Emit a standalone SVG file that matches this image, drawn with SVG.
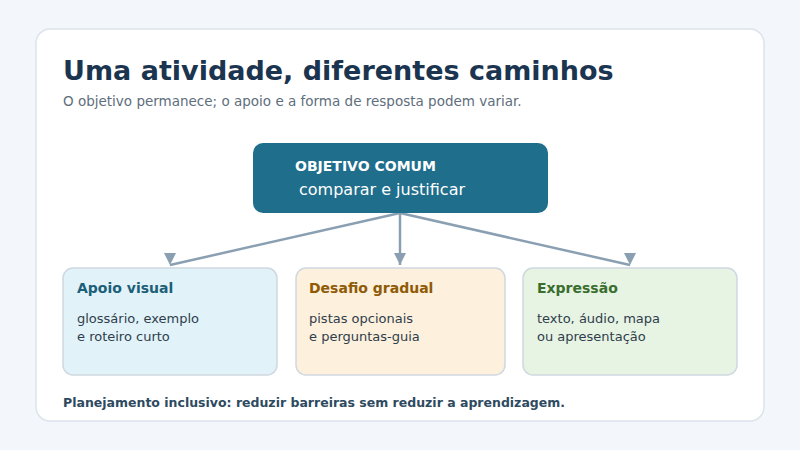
<svg xmlns="http://www.w3.org/2000/svg" width="800" height="450" viewBox="0 0 800 450">
<style>
text{font-family:"DejaVu Sans","Liberation Sans",sans-serif}
.card{stroke:#cfd8e0;stroke-width:1.5}
.h{font-size:14px;font-weight:bold}
.b{font-size:13px;fill:#2f3e4c}
.c{stroke:#8aa0b2;stroke-width:2.5;fill:none}
</style>
<defs><marker id="a" markerWidth="14" markerHeight="14" refX="7" refY="13" orient="0" markerUnits="userSpaceOnUse"><path d="M1,1 L13,1 L7,13 Z" fill="#8aa0b2"/></marker></defs>
<rect width="800" height="450" fill="#f3f6fa"/>
<rect x="36" y="29" width="728" height="392" rx="14" fill="#fff" stroke="#dde4ec" stroke-width="1.5"/>
<text x="63" y="80" font-size="27" font-weight="bold" fill="#1b3550">Uma atividade, diferentes caminhos</text>
<text x="63" y="106" font-size="13.5" fill="#5e6e7c">O objetivo permanece; o apoio e a forma de resposta podem variar.</text>
<g id="connectors">
<line class="c" x1="400" y1="213" x2="170" y2="265" marker-end="url(#a)"/>
<line class="c" x1="400" y1="213" x2="400" y2="265" marker-end="url(#a)"/>
<line class="c" x1="400" y1="213" x2="630" y2="265" marker-end="url(#a)"/>
</g>
<g id="goal">
<rect x="253" y="143" width="295" height="70" rx="10" fill="#1f6e8c"/>
<text x="295" y="171" font-size="14" font-weight="bold" fill="#fff">OBJETIVO COMUM</text>
<text x="299" y="195" font-size="16" fill="#fff">comparar e justificar</text>
</g>
<g id="visual">
<rect class="card" x="63" y="268" width="214" height="107" rx="10" fill="#e1f2f9"/>
<text class="h" x="77" y="293" fill="#1b5f78">Apoio visual</text>
<text class="b" x="77" y="323">glossário, exemplo</text>
<text class="b" x="77" y="341">e roteiro curto</text>
</g>
<g id="desafio">
<rect class="card" x="296" y="268" width="209" height="107" rx="10" fill="#fdf0dc"/>
<text class="h" x="309" y="293" fill="#8f5a06">Desafio gradual</text>
<text class="b" x="309" y="323">pistas opcionais</text>
<text class="b" x="309" y="341">e perguntas-guia</text>
</g>
<g id="expressao">
<rect class="card" x="523" y="268" width="214" height="107" rx="10" fill="#e7f3e3"/>
<text class="h" x="537" y="293" fill="#3a6e2e">Expressão</text>
<text class="b" x="537" y="323">texto, áudio, mapa</text>
<text class="b" x="537" y="341">ou apresentação</text>
</g>
<text x="63" y="407" font-size="12.5" font-weight="bold" fill="#2e4a60">Planejamento inclusivo: reduzir barreiras sem reduzir a aprendizagem.</text>
</svg>
